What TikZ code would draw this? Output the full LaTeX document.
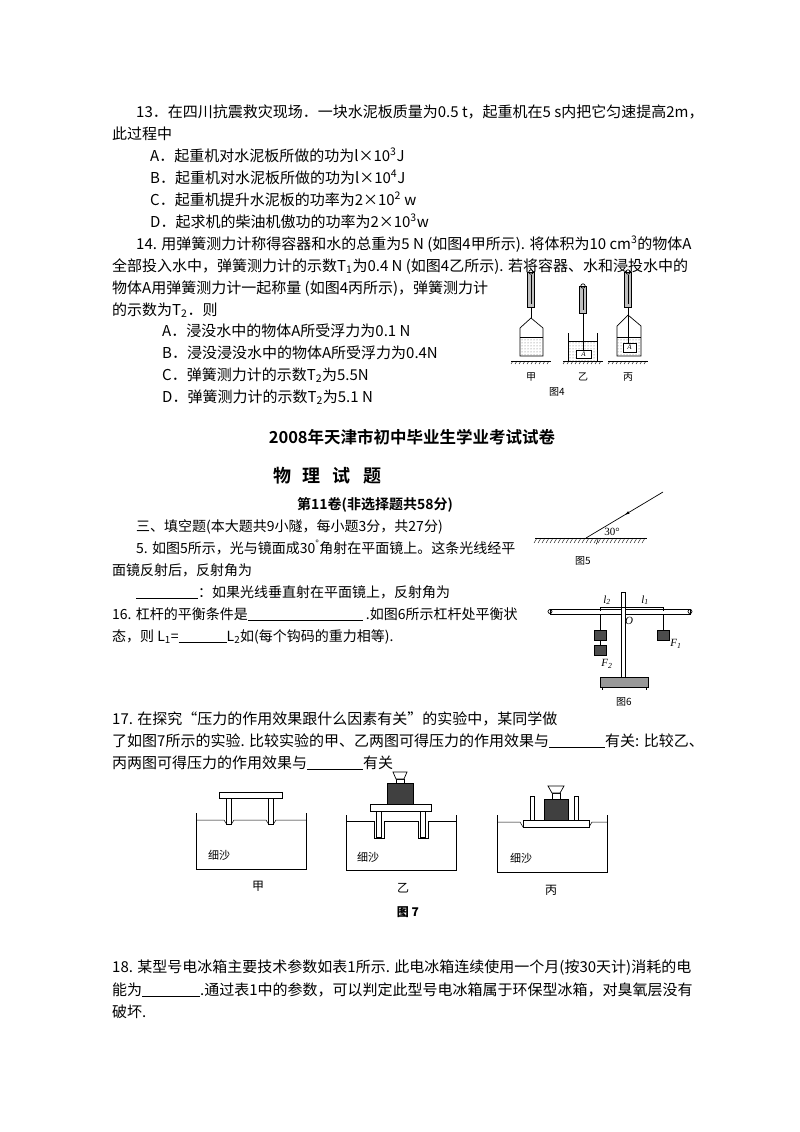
\documentclass[tikz,border=0pt]{standalone}
\usepackage{fontspec}
\setmainfont{Noto Sans CJK SC}
\newfontfamily\cjkb{Noto Sans CJK SC}[BoldFont={* Bold}]
\newfontfamily\lat{Liberation Serif}
\usetikzlibrary{patterns,arrows.meta,decorations.markings}
\newcommand{\blank}[1]{\rule[-2pt]{#1pt}{0.6pt}}
\begin{document}
\begin{tikzpicture}[x=1pt,y=-1pt,
  t/.style={anchor=base west,inner sep=0,font=\fontsize{15}{17}\selectfont},
  ts/.style={anchor=base west,inner sep=0,font=\fontsize{14}{17}\selectfont},
  lbl/.style={inner sep=0,font=\fontsize{10}{12}\selectfont},
  it/.style={inner sep=0,font=\lat\itshape\fontsize{11}{12}\selectfont},
  th/.style={line width=0.7pt},
  hatch/.style={line width=0.4pt}]
\useasboundingbox (0,0) rectangle (800,1132);
% ---- text ----
\node[t] (q13) at (136,117) {13．在四川抗震救灾现场．一块水泥板质量为0.5 t，起重机在5 s内把它匀速提高2m，};
\node[t] (q13b) at (112,139) {此过程中};
\node[t] (a13) at (150,161) {A．起重机对水泥板所做的功为l×10\textsuperscript{3}J};
\node[t] (b13) at (150,183) {B．起重机对水泥板所做的功为l×10\textsuperscript{4}J};
\node[t] (c13) at (150,205) {C．起重机提升水泥板的功率为2×10\textsuperscript{2} w};
\node[t] (d13) at (150,227) {D．起求机的柴油机傲功的功率为2×10\textsuperscript{3}w};
\node[t] (q14) at (136,249) {14. 用弹簧测力计称得容器和水的总重为5 N (如图4甲所示). 将体积为10 cm\textsuperscript{3}的物体A};
\node[t] (q14b) at (112,271) {全部投入水中，弹簧测力计的示数T\textsubscript{1}为0.4 N (如图4乙所示). 若将容器、水和浸投水中的};
\node[t] (q14c) at (112,293) {物体A用弹簧测力计一起称量 (如图4丙所示)，弹簧测力计};
\node[t] (q14d) at (112,315) {的示数为T\textsubscript{2}．则};
\node[t] (a14) at (162,336) {A．浸没水中的物体A所受浮力为0.1 N};
\node[t] (b14) at (162,358) {B．浸没浸没水中的物体A所受浮力为0.4N};
\node[t] (c14) at (162,380) {C．弹簧测力计的示数T\textsubscript{2}为5.5N};
\node[t] (d14) at (162,402) {D．弹簧测力计的示数T\textsubscript{2}为5.1 N};
\node[inner sep=0,font=\cjkb\bfseries\fontsize{16.5}{19}\selectfont] (title) at (412,437) {2008年天津市初中毕业生学业考试试卷};
\node[inner sep=0,font=\cjkb\bfseries\fontsize{18}{20}\selectfont] (sub) at (327,476) {物\hspace{12pt}理\hspace{12pt}试\hspace{12pt}题};
\node[inner sep=0,font=\cjkb\bfseries\fontsize{14}{16}\selectfont] (vol) at (375,505) {第11卷(非选择题共58分)};
\node[ts] (s3) at (136,531) {三、填空题(本大题共9小隧，每小题3分，共27分)};
\node[ts] (q5) at (136,553) {5. 如图5所示，光与镜面成30\textsuperscript{°}角射在平面镜上。这条光线经平};
\node[ts] (q5b) at (112,575) {面镜反射后，反射角为};
\node[ts] (q5c) at (136,597) {\blank{62}：如果光线垂直射在平面镜上，反射角为};
\node[ts] (q16) at (112,619) {16. 杠杆的平衡条件是\blank{115} .如图6所示杠杆处平衡状};
\node[ts] (q16b) at (112,641) {态，则 L\textsubscript{1}=\blank{48}L\textsubscript{2}如(每个钩码的重力相等).};
\node[t] (q17) at (112,724) {17. 在探究“压力的作用效果跟什么因素有关”的实验中，某同学做};
\node[t] (q17b) at (112,746) {了如图7所示的实验. 比较实验的甲、乙两图可得压力的作用效果与\blank{56}有关: 比较乙、};
\node[t] (q17c) at (112,768) {丙两图可得压力的作用效果与\blank{56}有关};
\node[t] (q18) at (112,972) {18. 某型号电冰箱主要技术参数如表1所示. 此电冰箱连续使用一个月(按30天计)消耗的电};
\node[t] (q18b) at (112,995) {能为\blank{58}.通过表1中的参数，可以判定此型号电冰箱属于环保型冰箱，对臭氧层没有};
\node[t] (q18c) at (112,1017) {破坏.};
% ---- Fig 4 ----
\foreach \cx/\top/\bot/\hk/\nm in {531/272/307/318/甲,583/286/313/326/乙,628/272/307/315/丙}{
  \draw[th,fill=black!25] (\cx-3.5,\top) rectangle (\cx+3.5,\bot);
  \draw[line width=0.8pt] (\cx,\top+3) -- (\cx,\bot-3);
  \draw[th] (\cx,\top) circle (2.2);
  \draw[th] (\cx,\bot) -- (\cx,\hk);
  \draw[hatch] (\cx-20,361) -- (\cx+20,361);
  \foreach \i in {-18,-14,...,18} \draw[hatch] (\cx+\i,361) -- (\cx+\i-2,364);
  \node[lbl] at (\cx,377) {\nm};
}
% 甲
\draw[th] (531,318) -- (520,328) -- (520,356) -- (543,356) -- (543,328) -- cycle;
\fill[pattern=dots,pattern color=black!60] (520.5,337) rectangle (542.5,355.5);
\draw[th] (520,337) -- (543,337);
% 乙
\draw[th] (568,333) -- (568,361) -- (597,361) -- (597,333);
\fill[pattern=dots,pattern color=black!60] (568.5,341) rectangle (596.5,360.5);
\draw[th] (568,341) -- (597,341);
\draw[th] (583,326) -- (583,350);
\draw[th,fill=white] (576,350) rectangle (591,358);
\node[inner sep=0,font=\lat\itshape\fontsize{7}{8}\selectfont] at (583.5,354) {A};
% 丙
\draw[th] (628,315) -- (617,326) -- (617,356) -- (641,356) -- (641,326) -- cycle;
\fill[pattern=dots,pattern color=black!60] (617.5,337) rectangle (640.5,355.5);
\draw[th] (617,337) -- (641,337);
\draw[th] (628,315) -- (628,343);
\draw[th,fill=white] (623,343) rectangle (636,352);
\node[inner sep=0,font=\lat\itshape\fontsize{7}{8}\selectfont] at (629.5,347.5) {A};
\node[lbl] (f4) at (557,392) {图4};
% ---- Fig 5 ----
\coordinate (m0) at (535,538); \coordinate (m1) at (647,538);
\coordinate (hit) at (586,538); \coordinate (src) at (663,492);
\draw[line width=0.8pt] (m0) -- (m1);
\foreach \i in {537,541,...,645} \draw[hatch] (\i,538) -- (\i-3,543);
\draw[line width=0.7pt,postaction={decorate},decoration={markings,mark=at position 0.5 with {\arrow{Latex[length=5pt,width=3pt]}}}] (src) -- (hit);
\draw[line width=0.5pt] (598,538) arc[start angle=0,end angle=31,radius=12];
\node[inner sep=0,font=\lat\fontsize{11}{12}\selectfont] at (612,532) {30°};
\node[lbl] (f5) at (583,561) {图5};
% ---- Fig 6 ----
\draw[th,fill=white] (550,609) rectangle (690,614);
\draw[th] (550,611.5) circle (2); \draw[th] (690,611.5) circle (2);
\draw[th,fill=white] (621,592) rectangle (625,677);
\draw[th,fill=black!40] (600,677) rectangle (648,687);
\draw[th] (602,687) -- (602,690); \draw[th] (646,687) -- (646,690);
\draw[line width=0.5pt] (600,611) -- (600,607) -- (623,607);
\draw[line width=0.5pt] (623,607) -- (663,607) -- (663,611);
\draw[th] (600,614) -- (600,630); \draw[th] (663,614) -- (663,630);
\draw[th,fill=black!70] (594,630) rectangle (606,640);
\draw[th] (600,640) -- (600,645);
\draw[th,fill=black!70] (594,645) rectangle (606,655);
\draw[th,fill=black!70] (657,630) rectangle (669,640);
\node[it] at (607,600) {l\textsubscript{2}};
\node[it] at (645,600) {l\textsubscript{1}};
\node[it] at (629,621) {O};
\node[it] at (676,644) {F\textsubscript{1}};
\node[it] at (607,664) {F\textsubscript{2}};
\node[lbl] (f6) at (624,702) {图6};
% ---- Fig 7 ----
% 甲
\draw[th] (196,813) -- (196,869) -- (306,869) -- (306,813);
\draw[line width=0.5pt] (196,820) -- (224,820) .. controls (226,826) and (232,826) .. (234,820) -- (266,820) .. controls (268,826) and (274,826) .. (276,820) -- (306,820);
\draw[th,fill=white] (219,792) rectangle (282,798);
\draw[th,fill=white] (226,798) rectangle (231,824);
\draw[th,fill=white] (268,798) rectangle (273,824);
\node[lbl,font=\fontsize{11}{13}\selectfont] at (219,855) {细沙};
\node[lbl,font=\fontsize{12}{14}\selectfont] at (258,886) {甲};
% 乙
\draw[th] (346,815) -- (346,870) -- (456,870) -- (456,815);
\draw[line width=0.5pt] (346,821) -- (374,821) -- (374,838) -- (384,838) -- (384,821) -- (418,821) -- (418,838) -- (428,838) -- (428,821) -- (456,821);
\draw[th,fill=black!75] (387,783) rectangle (413,804);
\draw[th,fill=white] (396,779) rectangle (404,783);
\draw[th,fill=white] (393,772) -- (407,772) -- (404,779) -- (396,779) -- cycle;
\draw[th,fill=white] (370,804) rectangle (431,811);
\draw[th,fill=white] (376,811) rectangle (381,837);
\draw[th,fill=white] (420,811) rectangle (425,837);
\node[lbl,font=\fontsize{11}{13}\selectfont] at (368,857) {细沙};
\node[lbl,font=\fontsize{12}{14}\selectfont] at (403,888) {乙};
% 丙
\draw[th] (497,815) -- (497,872) -- (607,872) -- (607,815);
\draw[line width=0.5pt] (497,822) -- (520,822) -- (523,827) -- (589,827) -- (592,822) -- (607,822);
\draw[th,fill=white] (530,796) rectangle (534,820);
\draw[th,fill=white] (574,796) rectangle (578,820);
\draw[th,fill=black!75] (544,799) rectangle (568,820);
\draw[th,fill=white] (552,793) rectangle (560,799);
\draw[th,fill=white] (548,786) -- (564,786) -- (560,793) -- (552,793) -- cycle;
\draw[th,fill=white] (523,820) rectangle (589,827);
\node[lbl,font=\fontsize{11}{13}\selectfont] at (521,858) {细沙};
\node[lbl,font=\fontsize{12}{14}\selectfont] at (551,890) {丙};
\node[lbl,font=\bfseries\fontsize{12}{14}\selectfont] (f7) at (408,912) {图 7};
\end{tikzpicture}
\end{document}
